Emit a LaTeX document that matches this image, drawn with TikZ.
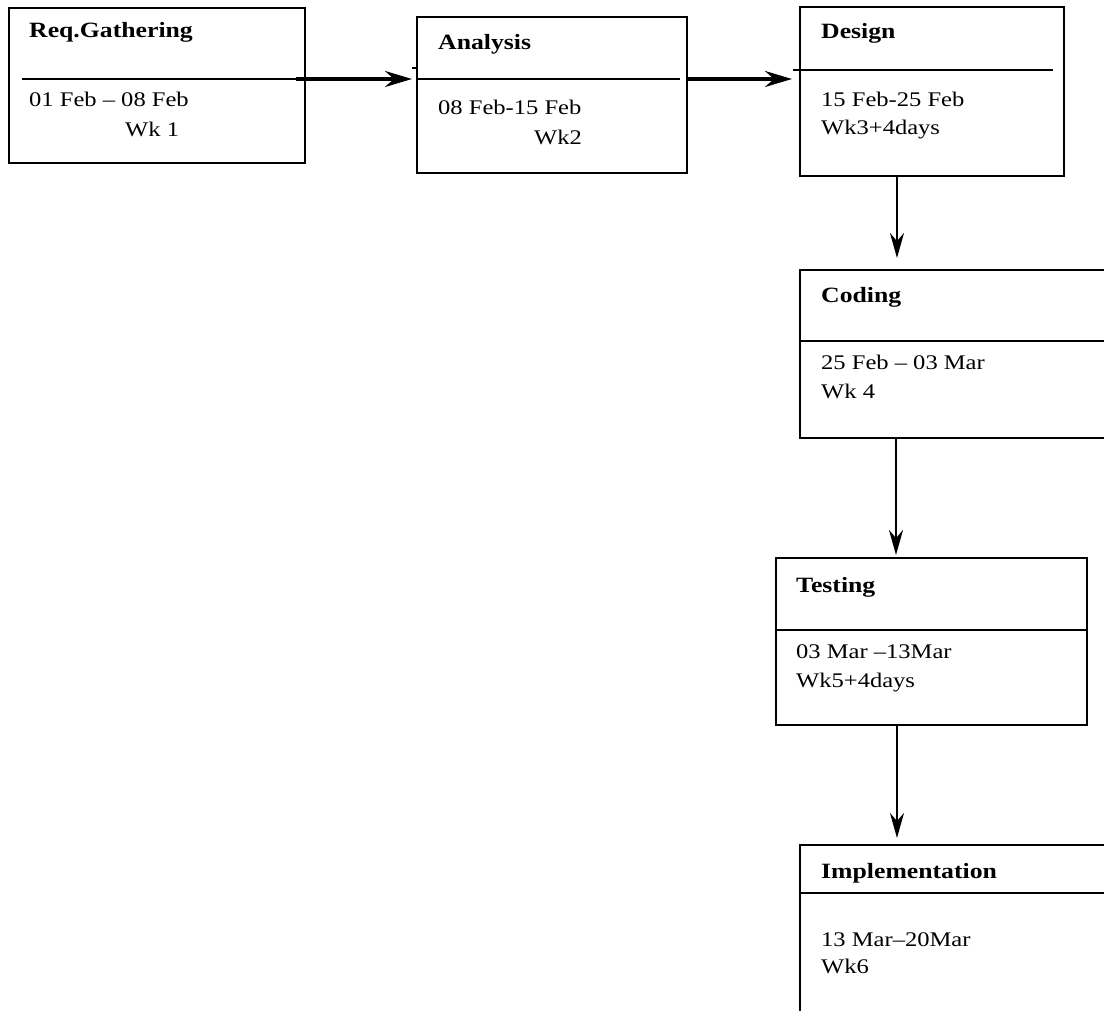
\documentclass[tikz,border=0pt]{standalone}
\usepackage{fontspec}
\setmainfont{Liberation Serif}[FakeStretch=1.18]
\usetikzlibrary{arrows.meta}
\tikzset{
  box/.style={draw, line width=2pt, inner sep=0pt, anchor=north west},
  divline/.style={line width=2pt},
  txt/.style={anchor=base west, inner sep=0pt, font=\fontsize{20.8}{25}\selectfont},
  ttl/.style={txt, font=\fontsize{21.8}{26}\selectfont\bfseries},
  harrow/.style={line width=3.5pt, -{Stealth[length=27pt,width=16pt,inset=9pt]}},
  varrow/.style={line width=2.2pt, -{Stealth[length=25pt,width=14pt,inset=8pt]}}
}
\begin{document}
\begin{tikzpicture}[x=1pt,y=-1pt]
\useasboundingbox (0,0) rectangle (1104,1011);
\clip (0,0) rectangle (1104,1011);
% boxes
\node[box, minimum width=296pt, minimum height=155pt] (req) at (8,7) {};
\node[box, minimum width=270pt, minimum height=156pt] (ana) at (416,16) {};
\node[box, minimum width=264pt, minimum height=169pt] (des) at (799,6) {};
\node[box, minimum width=330pt, minimum height=168pt] (cod) at (799,269) {};
\node[box, minimum width=311pt, minimum height=167pt] (tst) at (775,557) {};
\node[box, minimum width=330pt, minimum height=200pt] (imp) at (799,844) {};
% dividers
\coordinate (reqdl) at (22,79);   \coordinate (reqdr) at (req.east |- reqdl);
\coordinate (anadl) at (ana.west |- reqdl); \coordinate (anadr) at (680,79);
\coordinate (desdl) at (793,70);  \coordinate (desdr) at (1053,70);
\coordinate (coddl) at (cod.west |- 0,341); \coordinate (coddr) at (cod.east |- 0,341);
\coordinate (tstdl) at (tst.west |- 0,630); \coordinate (tstdr) at (tst.east |- 0,630);
\coordinate (impdl) at (imp.west |- 0,893); \coordinate (impdr) at (imp.east |- 0,893);
\draw[divline] (reqdl) -- (reqdr);
\draw[divline] (anadl) -- (anadr);
\draw[divline] (desdl) -- (desdr);
\draw[divline] (coddl) -- (coddr);
\draw[divline] (tstdl) -- (tstdr);
\draw[divline] (impdl) -- (impdr);
\coordinate (tick) at (412,68);
\draw[line width=1.5pt] (tick) -- (ana.west |- tick);
% texts
\node[ttl] (reqt) at (29,38) {Req.Gathering};
\node[txt] (reqd) at (29,107) {01 Feb – 08 Feb};
\node[txt] (reqw) at (125,137) {Wk 1};
\node[ttl] (anat) at (438,50) {Analysis};
\node[txt] (anad) at (438,115) {08 Feb-15 Feb};
\node[txt] (anaw) at (534,145) {Wk2};
\node[ttl] (dest) at (821,39) {Design};
\node[txt] (desd) at (821,107) {15 Feb-25 Feb};
\node[txt] (desw) at (821,135) {Wk3+4days};
\node[ttl] (codt) at (821,303) {Coding};
\node[txt] (codd) at (821,370) {25 Feb – 03 Mar};
\node[txt] (codw) at (821,398) {Wk 4};
\node[ttl] (tstt) at (796,592) {Testing};
\node[txt] (tstd) at (796,658) {03 Mar –13Mar};
\node[txt] (tstw) at (796,687) {Wk5+4days};
\node[ttl] (impt) at (821,878) {Implementation};
\node[txt] (impd) at (821,946) {13 Mar–20Mar};
\node[txt] (impw) at (821,973) {Wk6};
% connectors
\draw[harrow, shorten >=4pt] ([xshift=-10pt]req.east |- reqdl) -- (ana.west |- reqdl);
\draw[harrow, shorten >=7pt] (ana.east |- reqdl) -- (des.west |- reqdl);
\draw[varrow, shorten >=11pt] (des.south -| 897,0) -- (cod.north -| 897,0);
\draw[varrow, shorten >=2pt] (cod.south -| 896,0) -- (tst.north -| 896,0);
\draw[varrow, shorten >=6pt] (tst.south -| 897,0) -- (imp.north -| 897,0);
\end{tikzpicture}
\end{document}
